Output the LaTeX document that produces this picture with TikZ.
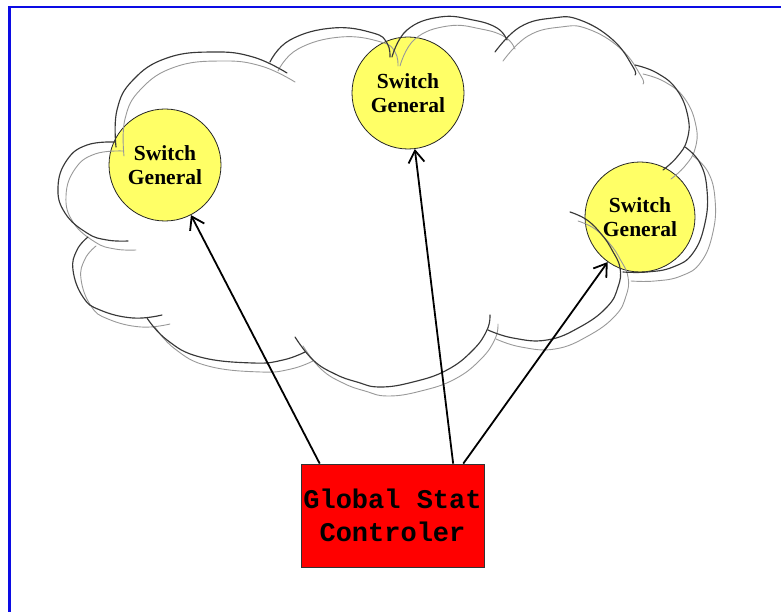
\documentclass[tikz,border=0pt]{standalone}
\usepackage{fontspec}
\setmainfont{Liberation Serif}
\newfontfamily\ctrlfont{Liberation Mono}
\usetikzlibrary{arrows.meta,calc}

\definecolor{switchyellow}{RGB}{255,255,102}
\definecolor{frameblue}{RGB}{12,12,228}
\definecolor{ctrlred}{RGB}{255,0,0}

% outline of the cloud: one smooth stroke per puff
\newcommand\cloudpuffs[1]{%
  \draw[#1] plot[smooth, tension=0.75] coordinates {(115,142) (87,145) (67,160) (58,187) (65,213) (87,233) (107,240) (128,241)};
  \draw[#1] plot[smooth, tension=0.75] coordinates {(88,237) (77,250) (73,270) (83,297) (100,310) (133,318) (162,315)};
  \draw[#1] plot[smooth, tension=0.75] coordinates {(147,318) (167,340) (200,357) (253,363) (283,360) (305,352)};
  \draw[#1] plot[smooth, tension=0.75] coordinates {(295,337) (313,360) (335,374) (357,382) (380,387) (413,382) (447,370) (473,350) (487,330) (490,315)};
  \draw[#1] plot[smooth, tension=0.75] coordinates {(488,330) (513,338) (547,340) (580,327) (607,307) (618,287) (620,268) (612,250) (602,235) (587,220) (570,212)};
  \draw[#1] plot[smooth, tension=0.75] coordinates {(685,147) (700,163) (707,190) (705,223) (693,253) (673,267) (647,272) (623,272)};
  \draw[#1] plot[smooth, tension=0.75] coordinates {(635,65) (657,73) (677,90) (688,117) (687,140) (677,157) (663,170)};
  \draw[#1] plot[smooth, tension=0.75] coordinates {(495,52) (520,27) (553,18) (580,20) (613,40) (633,67) (635,75)};
  \draw[#1] plot[smooth, tension=0.75] coordinates {(392,57) (407,30) (440,17) (473,20) (497,28) (507,40)};
  \draw[#1] plot[smooth, tension=0.75] coordinates {(270,62) (290,40) (333,28) (373,33) (387,43) (390,57)};
  \draw[#1] plot[smooth, tension=0.75] coordinates {(116,147) (117,110) (133,80) (167,58) (213,52) (253,57) (287,73)};
}

\begin{document}
\begin{tikzpicture}[x=1pt,y=-1pt,
  switchnode/.style={circle, draw=black!85, line width=0.8pt, fill=switchyellow,
    minimum size=112pt, inner sep=0pt, align=center,
    font=\bfseries\fontsize{21.5}{24}\selectfont, text=black},
  ctrlbox/.style={rectangle, draw=black!80, line width=0.8pt, fill=ctrlred,
    minimum width=183pt, minimum height=103pt, inner sep=0pt, align=center,
    font=\ctrlfont\bfseries\fontsize{27}{33}\selectfont, text=black},
  puff/.style={line width=1.15pt, black!78, line cap=round},
  puffshade/.style={line width=0.9pt, black!40, line cap=round},
  link/.style={line width=1.8pt, -{Straight Barb[length=12pt,width=16pt,line width=1.8pt]}},
  frameline/.style={line width=2.2pt, frameblue}
]
\useasboundingbox (0,0) rectangle (781,612);

% frame along the left and top edges
\draw[frameline] (9.5,612) -- (9.5,7) -- (781,7);

% switches
\node[switchnode] (sw1) at (165,165) {Switch\\General};
\node[switchnode] (sw2) at (408,93) {Switch\\General};
\node[switchnode, minimum size=110pt] (sw3) at (640,217) {Switch\\General};

% cloud: light copy offset behind the dark outline
\begin{scope}[shift={(8,9)}]
  \cloudpuffs{puffshade}
\end{scope}
\cloudpuffs{puff}

% controller
\node[ctrlbox] (ctrl) at (392.5,515.5) {Global Stat\\Controler};

\coordinate (o1) at ($(ctrl.north west)!0.104!(ctrl.north east)$);
\coordinate (o2) at ($(ctrl.north west)!0.83!(ctrl.north east)$);
\coordinate (o3) at ($(ctrl.north west)!0.885!(ctrl.north east)$);

\draw[link] (o1) -- (sw1);
\draw[link] (o2) -- (sw2);
\draw[link] (o3) -- (sw3);
\end{tikzpicture}
\end{document}
